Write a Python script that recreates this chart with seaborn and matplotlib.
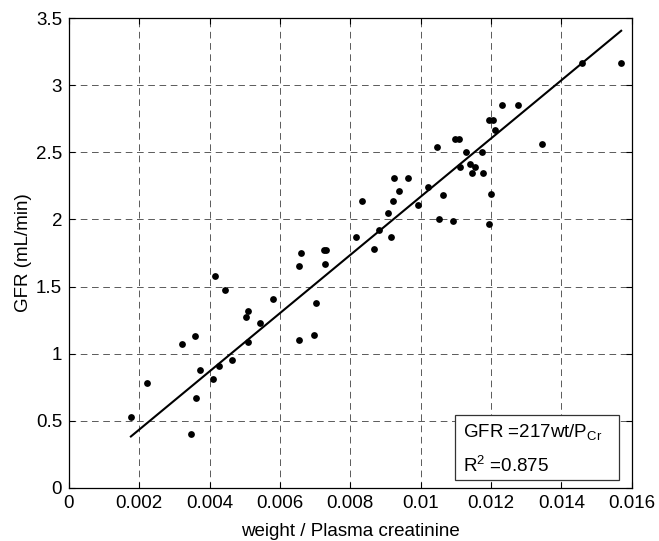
import numpy as np
import pandas as pd
import matplotlib
matplotlib.use("Agg")
import matplotlib.pyplot as plt
import seaborn as sns
from matplotlib.patches import Rectangle

# ---- data ----
wt_over_pcr = [0.00176, 0.00223, 0.00320, 0.00359, 0.00362, 0.00348, 0.00373, 0.00410,
               0.00427, 0.00414, 0.00443, 0.00464, 0.00502, 0.00508, 0.00508, 0.00542,
               0.00579, 0.00653, 0.00696, 0.00701, 0.00655, 0.00728, 0.00659, 0.00724,
               0.00732, 0.00815, 0.00833, 0.00867, 0.00881, 0.00916, 0.00907, 0.00921,
               0.00924, 0.00938, 0.00964, 0.00992, 0.01022, 0.01052, 0.01064, 0.01092,
               0.01047, 0.01097, 0.01108, 0.01112, 0.01130, 0.01140, 0.01154, 0.01147,
               0.01175, 0.01178, 0.01193, 0.01201, 0.01195, 0.01206, 0.01210, 0.01232,
               0.01276, 0.01344, 0.01458, 0.01570]
gfr = [0.53, 0.78, 1.07, 1.13, 0.67, 0.40, 0.88, 0.81,
       0.91, 1.58, 1.475, 0.95, 1.27, 1.32, 1.09, 1.23,
       1.41, 1.10, 1.14, 1.38, 1.65, 1.67, 1.75, 1.77,
       1.77, 1.87, 2.14, 1.78, 1.92, 1.87, 2.05, 2.14,
       2.31, 2.21, 2.31, 2.11, 2.24, 2.00, 2.18, 1.99,
       2.54, 2.60, 2.60, 2.39, 2.50, 2.41, 2.39, 2.35,
       2.50, 2.35, 1.965, 2.19, 2.74, 2.74, 2.67, 2.85,
       2.85, 2.56, 3.17, 3.17]
slope = 217
r_squared = 0.875
x_ticks = [0, 0.002, 0.004, 0.006, 0.008, 0.01, 0.012, 0.014, 0.016]
x_tick_labels = ["0", "0.002", "0.004", "0.006", "0.008", "0.01", "0.012", "0.014", "0.016"]
y_ticks = [0, 0.5, 1, 1.5, 2, 2.5, 3, 3.5]
y_tick_labels = ["0", "0.5", "1", "1.5", "2", "2.5", "3", "3.5"]

df = pd.DataFrame({"x": wt_over_pcr, "y": gfr})
fit_x = np.array([min(wt_over_pcr), max(wt_over_pcr)])
fit_df = pd.DataFrame({"x": fit_x, "y": slope * fit_x})

plt.rcParams["font.family"] = ["Liberation Sans", "DejaVu Sans"]
plt.rcParams["mathtext.fontset"] = "custom"
plt.rcParams["mathtext.rm"] = "Liberation Sans"
plt.rcParams["mathtext.it"] = "Liberation Sans"

fs = 13.5
fig = plt.figure(figsize=(6.59, 5.41), dpi=100)
ax = fig.add_axes([0.1047, 0.0985, 0.8539, 0.8677])

ax.grid(True, color="0.25", linewidth=0.6, linestyle=(0, (8, 5.5)))
ax.set_axisbelow(True)

sns.lineplot(data=fit_df, x="x", y="y", ax=ax, color="black", linewidth=1.5, zorder=3)
sns.scatterplot(data=df, x="x", y="y", ax=ax, color="black", s=24, edgecolor="black",
                linewidth=0, zorder=4)

ax.set_xlim(0, 0.016)
ax.set_ylim(0, 3.5)
ax.set_xticks(x_ticks)
ax.set_xticklabels(x_tick_labels)
ax.set_yticks(y_ticks)
ax.set_yticklabels(y_tick_labels)
ax.tick_params(direction="in", length=4, width=0.8, labelsize=fs, top=True, right=True,
               pad=5, colors="black")
for s in ax.spines.values():
    s.set_linewidth(0.9)
    s.set_color("black")

ax.set_xlabel("weight / Plasma creatinine", fontsize=fs)
ax.set_ylabel("GFR (mL/min)", fontsize=fs)
ax.xaxis.set_label_coords(0.5, -0.076)
ax.yaxis.set_label_coords(-0.066, 0.5)

# annotation box
ax.add_patch(Rectangle((0.686, 0.016), 0.292, 0.138, transform=ax.transAxes,
                       facecolor="white", edgecolor="0.2", linewidth=0.9, zorder=5))
ax.text(0.701, 0.107, "GFR =%dwt/P$_{\\mathrm{Cr}}$" % slope, transform=ax.transAxes,
        fontsize=fs, va="baseline", ha="left", zorder=6)
ax.text(0.701, 0.034, "R$^{2}$ =%.3f" % r_squared, transform=ax.transAxes,
        fontsize=fs, va="baseline", ha="left", zorder=6)

fig.savefig("out.png", dpi=100)
